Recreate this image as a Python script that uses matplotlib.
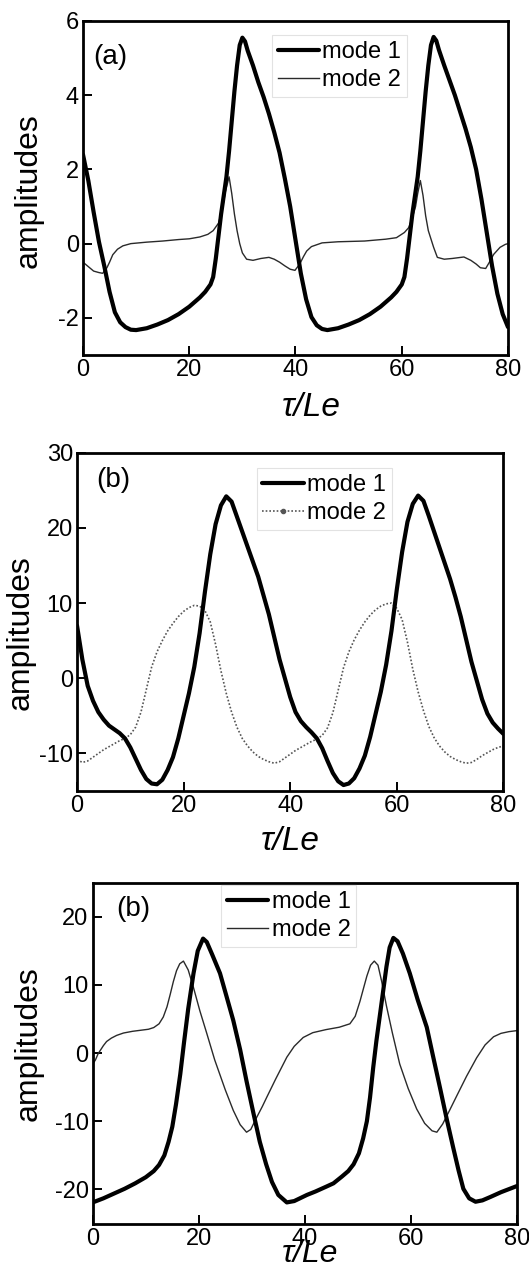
"""Mode amplitudes vs tau/Le, three stacked panels"""

import matplotlib
matplotlib.use("Agg")
import matplotlib.pyplot as plt
from matplotlib.lines import Line2D

plt.rcParams['font.family'] = ['Liberation Sans', 'DejaVu Sans']
plt.rcParams['axes.unicode_minus'] = False  # the figure uses plain hyphens

# ---- panel (a) ----
t_a1 = [0, 1, 2, 3, 4, 5, 6, 7, 8, 9, 10, 12, 14, 16, 18, 20, 22, 23, 24, 24.5, 25, 25.5,
        26, 26.5, 27, 27.5, 28, 28.5, 29, 29.5, 30, 30.5, 31, 32, 33, 34, 35, 36, 37, 38,
        39, 40, 41, 42, 43, 44, 45, 46, 48, 50, 52, 54, 56, 58, 59, 60, 60.5, 61, 61.5,
        62, 62.5, 63, 63.5, 64, 64.5, 65, 65.5, 66, 66.5, 67, 68, 69, 70, 71, 72, 73, 74,
        75, 76, 77, 78, 79, 80]
y_a1 = [2.4, 1.7, 0.85, 0.05, -0.6, -1.3, -1.85, -2.12, -2.25, -2.32, -2.33, -2.28, -2.18,
        -2.06, -1.9, -1.7, -1.45, -1.3, -1.1, -0.9, -0.4, 0.2, 0.8, 1.3, 1.8, 2.5, 3.3,
        4.1, 4.8, 5.35, 5.55, 5.45, 5.2, 4.8, 4.35, 3.95, 3.5, 3.0, 2.45, 1.75, 1.0, 0.1,
        -0.8, -1.5, -1.98, -2.2, -2.3, -2.33, -2.28, -2.18, -2.06, -1.9, -1.7, -1.45, -1.3,
        -1.1, -0.9, -0.4, 0.2, 0.8, 1.3, 1.8, 2.5, 3.3, 4.1, 4.8, 5.35, 5.57, 5.47, 5.22,
        4.8, 4.4, 4.0, 3.55, 3.1, 2.6, 2.0, 1.2, 0.3, -0.6, -1.35, -1.9, -2.25]

t_a2 = [0, 1, 2, 3, 3.7, 4.5, 5, 5.6, 6.5, 7.5, 9, 12, 15, 18, 20, 22, 23.5, 24.5, 25.5,
        26.2, 26.8, 27.5, 28, 28.5, 29, 29.5, 30, 30.8, 32, 33.5, 35, 36, 37, 38, 39, 39.9,
        40.8, 41.5, 42.1, 43, 45, 48, 53, 57, 59, 60.5, 61.3, 62, 62.6, 63, 63.5, 64, 64.5,
        65, 65.4, 66, 66.7, 68, 69.5, 71.7, 73, 74, 74.8, 75.8, 76.5, 77.3, 78.5, 79.5, 80]
y_a2 = [-0.5, -0.62, -0.74, -0.78, -0.8, -0.65, -0.5, -0.3, -0.15, -0.06, 0.0, 0.04, 0.07,
        0.11, 0.13, 0.18, 0.25, 0.35, 0.55, 0.9, 1.4, 1.8, 1.35, 0.8, 0.35, 0.0, -0.25,
        -0.42, -0.45, -0.4, -0.37, -0.42, -0.5, -0.6, -0.69, -0.72, -0.55, -0.35, -0.2,
        -0.08, 0.02, 0.05, 0.07, 0.12, 0.16, 0.3, 0.43, 0.7, 1.0, 1.35, 1.7, 1.3, 0.75,
        0.35, 0.17, -0.1, -0.37, -0.42, -0.4, -0.36, -0.45, -0.55, -0.65, -0.67, -0.5,
        -0.29, -0.1, -0.02, 0.0]

# ---- panel (b), middle ----
t_b1 = list(range(0, 81))
y_b1 = [7, 2.5, -1, -3, -4.5, -5.5, -6.3, -6.8, -7.3, -8, -9.2, -10.7, -12.2, -13.4, -14,
        -14.1, -13.5, -12.2, -10.5, -8, -5, -2, 1.5, 6, 11.5, 16.5, 20.5, 23, 24.2, 23.5,
        21.5, 19.5, 17.5, 15.5, 13.5, 11, 8.5, 5.5, 2.5, 0, -2.5, -4.5, -5.7, -6.5, -7.2,
        -8, -9.3, -11, -12.6, -13.7, -14.2, -14, -13.3, -12, -10.3, -7.8, -4.8, -1.8, 1.8,
        6.3, 11.8, 16.8, 20.8, 23.2, 24.3, 23.6, 21.6, 19.5, 17.4, 15.3, 13.2, 10.8, 8.2,
        5.2, 2.2, -0.3, -2.8, -4.7, -5.9, -6.7, -7.4]

t_b2 = list(range(0, 81))
y_b2 = [-10.8, -11.2, -11, -10.5, -10, -9.5, -9.1, -8.7, -8.3, -8, -7.5, -6.5, -4.5, -1.5,
        1.5, 3.5, 5, 6.3, 7.3, 8.2, 8.9, 9.4, 9.7, 9.6, 9, 7.5, 4.5, 1, -2, -4.5, -6.5, -8,
        -9, -9.8, -10.4, -10.8, -11.1, -11.3, -11.1, -10.6, -10.1, -9.6, -9.2, -8.8, -8.4,
        -8.1, -7.6, -6.6, -4.6, -1.6, 1.4, 3.5, 5.1, 6.4, 7.5, 8.4, 9.1, 9.6, 9.9, 10.0,
        9.3, 7.8, 4.8, 1.2, -1.8, -4.3, -6.4, -7.9, -9, -9.8, -10.4, -10.8, -11.1, -11.3,
        -11.2, -10.8, -10.3, -9.9, -9.5, -9.2, -9]

# ---- panel (b), bottom ----
t_c1 = [0, 2, 4, 6, 8, 10, 11.5, 12.5, 13.5, 14.3, 15, 15.7, 16.5, 17.2, 18, 19, 19.8,
        20.8, 21.5, 22.5, 24, 25.2, 26.5, 27.8, 29, 30.3, 31.5, 32.7, 33.8, 35, 36.6, 38,
        40.4, 42, 44, 45.4, 47, 48.2, 49.2, 50.2, 51, 51.7, 52.3, 52.9, 53.5, 54.2, 55.4,
        56, 56.7, 57.5, 58.5, 59.8, 61.3, 63, 64.2, 65.5, 66.8, 68, 69, 69.9, 71, 72.2,
        73.5, 75, 77, 80]
y_c1 = [-21.9, -21.3, -20.6, -19.9, -19.1, -18.2, -17.3, -16.4, -15.0, -13, -10.8, -7.5,
        -3.1, 1.5, 6.5, 11.7, 15, 16.8, 16.3, 14.5, 11.7, 8.4, 4.8, 0.5, -4.1, -8.8, -13,
        -16.3, -18.9, -20.8, -21.9, -21.7, -20.8, -20.3, -19.6, -19.1, -18.1, -17.3, -16.3,
        -14.7, -12.5, -10, -6.5, -2.1, 1.8, 5.8, 12.7, 15.5, 16.9, 16.4, 14.6, 11.7, 7.8,
        3.8, -0.5, -5.1, -9.8, -13.9, -17.2, -19.9, -21.3, -21.8, -21.6, -21.1, -20.4,
        -19.5]

t_c2 = [0, 0.5, 1, 2, 2.6, 3.5, 4.5, 5.8, 7.5, 9, 10.5, 11.5, 12.5, 13.3, 14, 14.6, 15.2,
        15.8, 16.4, 17.1, 18, 19, 20.2, 21.5, 23, 25, 26.5, 27.8, 29, 29.8, 30.8, 32, 32.8,
        34.5, 36.6, 38, 39.7, 41.5, 44, 46.5, 48.5, 49.5, 50.4, 51.1, 51.7, 52.4, 53.1,
        53.8, 54.5, 55.4, 56.5, 57.9, 59.5, 61.1, 62.6, 64, 64.9, 66, 67.3, 68.7, 70.5,
        72.4, 74, 75.6, 77, 78.5, 80]
y_c2 = [-1.6, -1.0, -0.1, 1.1, 1.7, 2.2, 2.6, 2.95, 3.2, 3.35, 3.5, 3.75, 4.3, 5.3, 6.8,
        8.6, 10.5, 12.1, 13.1, 13.5, 12.2, 9.6, 6.2, 2.9, -1.0, -5.4, -8.4, -10.5, -11.6,
        -11.2, -9.6, -7.8, -6.5, -3.8, -0.6, 1.0, 2.3, 3.0, 3.45, 3.8, 4.3, 5.4, 7.6, 9.6,
        11.3, 12.9, 13.5, 12.9, 10.5, 6.9, 3.0, -1.6, -5.2, -8.2, -10.3, -11.4, -11.6, -10.4,
        -8.4, -6.2, -3.4, -0.7, 1.2, 2.4, 2.9, 3.15, 3.3]

x_ticks = [0, 20, 40, 60, 80]
y_ticks_a = [-2, 0, 2, 4, 6]
y_ticks_b = [-10, 0, 10, 20, 30]
y_ticks_c = [-20, -10, 0, 10, 20]
series_names = ['mode 1', 'mode 2']


def style_axes(ax, ylim, yticks):
  ax.set_xlim(0, 80)
  ax.set_ylim(*ylim)
  ax.set_xticks(x_ticks)
  ax.set_yticks(yticks)
  ax.tick_params(direction='in', length=6.5, width=1.4, labelsize=17, pad=3,
                 top=False, right=False)
  for s in ax.spines.values():
    s.set_linewidth(2.0)


def add_legend(ax, handles, anchor):
  leg = ax.legend(handles, series_names, loc='upper left', bbox_to_anchor=anchor,
                  borderaxespad=0, fontsize=17, handlelength=1.75, handletextpad=0.15,
                  borderpad=0.25, labelspacing=0.25, fancybox=False, framealpha=1,
                  edgecolor='#e2e2e2')
  leg.get_frame().set_linewidth(0.8)


fig = plt.figure(figsize=(5.29, 12.8), dpi=100)

thick = dict(color='black', lw=3.0, solid_capstyle='round', solid_joinstyle='round')
thin = dict(color='#2a2a2a', lw=1.0)

# panel (a)
ax1 = fig.add_axes([0.1569, 0.7227, 0.8034, 0.2609])
ax1.plot(t_a2, y_a2, **thin)
ax1.plot(t_a1, y_a1, **thick)
style_axes(ax1, (-3, 6), y_ticks_a)
add_legend(ax1, [Line2D([], [], **thick), Line2D([], [], **thin)], (0.444, 0.958))
ax1.text(0.023, 0.931, '(a)', transform=ax1.transAxes, fontsize=20, ha='left', va='top')
ax1.set_ylabel('amplitudes', fontsize=23)
ax1.yaxis.set_label_coords(-0.093, 0.491)
ax1.set_xlabel('τ/Le', fontsize=24, fontstyle='italic', va='top')
ax1.xaxis.set_label_coords(0.538, -0.111)

# panel (b) middle
dotted = dict(color='#555555', lw=1.2, ls=(0, (1, 1.2)))
ax2 = fig.add_axes([0.1456, 0.3820, 0.8060, 0.2643])
ax2.plot(t_b2, y_b2, **dotted)
ax2.plot(t_b1, y_b1, **thick)
style_axes(ax2, (-15, 30), y_ticks_b)
add_legend(ax2, [Line2D([], [], **thick),
                 Line2D([], [], marker='o', markersize=3, **dotted)], (0.421, 0.954))
ax2.text(0.045, 0.957, '(b)', transform=ax2.transAxes, fontsize=20, ha='left', va='top')
ax2.set_ylabel('amplitudes', fontsize=23)
ax2.yaxis.set_label_coords(-0.098, 0.469)
ax2.set_xlabel('τ/Le', fontsize=24, fontstyle='italic', va='top')
ax2.xaxis.set_label_coords(0.5, -0.103)

# panel (b) bottom -- label sits low, close to the tick labels as in the source
ax3 = fig.add_axes([0.1754, 0.0441, 0.8017, 0.2663])
ax3.plot(t_c2, y_c2, **thin)
ax3.plot(t_c1, y_c1, **thick)
style_axes(ax3, (-25, 25), y_ticks_c)
add_legend(ax3, [Line2D([], [], **thick), Line2D([], [], **thin)], (0.302, 0.992))
ax3.text(0.056, 0.962, '(b)', transform=ax3.transAxes, fontsize=20, ha='left', va='top')
ax3.set_ylabel('amplitudes', fontsize=23)
ax3.yaxis.set_label_coords(-0.115, 0.527)
ax3.set_xlabel('τ/Le', fontsize=23, fontstyle='italic', va='top')
ax3.xaxis.set_label_coords(0.513, -0.045)

fig.savefig('out.png', dpi=100)
